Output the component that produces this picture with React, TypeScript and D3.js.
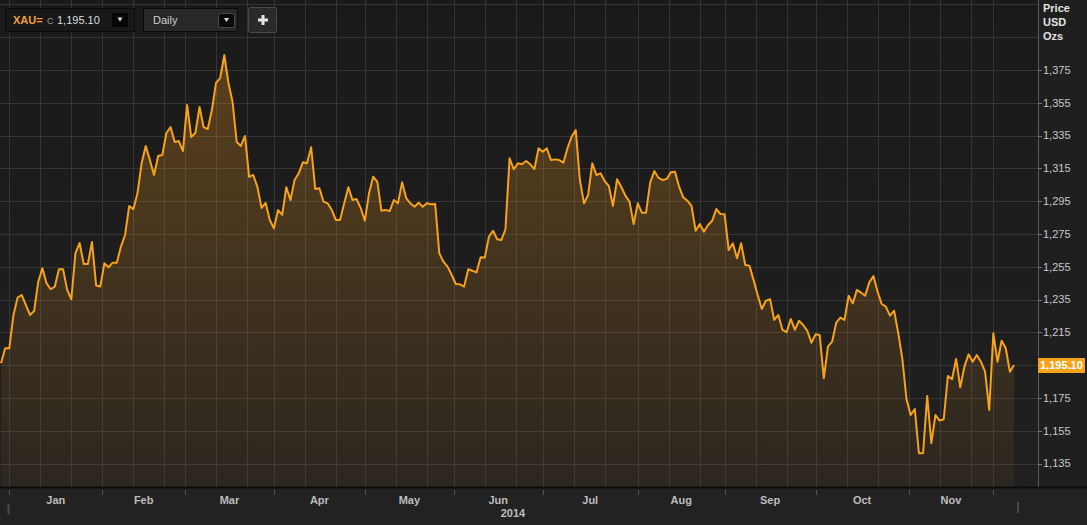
import React from 'react';
import * as d3 from 'd3';

// daily XAU= closes, first session Mon 30 Dec 2013, weekdays only
const firstSession = new Date(2013, 11, 30);
const closes = [
  1196.2, 1205.3, 1205.3, 1225.6, 1236.2, 1237.8, 1231.7, 1225.6, 1228.0, 1245.9,
  1254.1, 1245.0, 1241.3, 1242.9, 1253.5, 1253.5, 1240.9, 1235.2, 1263.4, 1269.5,
  1256.7, 1256.7, 1270.1, 1243.6, 1243.0, 1257.1, 1254.7, 1257.5, 1257.5, 1267.3,
  1274.4, 1292.1, 1290.1, 1299.8, 1318.1, 1328.7, 1320.1, 1311.0, 1322.6, 1323.2,
  1336.6, 1340.2, 1331.1, 1331.7, 1325.6, 1353.7, 1334.1, 1336.6, 1352.4, 1340.2,
  1339.0, 1350.6, 1367.1, 1370.1, 1384.1, 1367.1, 1355.5, 1331.1, 1328.7, 1334.8,
  1309.8, 1311.0, 1303.7, 1290.9, 1293.9, 1283.5, 1278.5, 1289.6, 1286.6, 1303.5,
  1295.7, 1307.9, 1312.0, 1318.7, 1318.1, 1327.9, 1302.4, 1302.9, 1294.7, 1293.7,
  1289.6, 1283.5, 1283.5, 1293.7, 1303.5, 1295.7, 1296.3, 1290.7, 1283.1, 1299.8,
  1309.9, 1306.9, 1289.2, 1289.6, 1289.0, 1295.7, 1293.7, 1306.5, 1296.8, 1293.7,
  1291.6, 1294.1, 1291.6, 1293.7, 1293.1, 1293.3, 1263.2, 1258.1, 1255.1, 1250.0,
  1244.5, 1244.3, 1242.9, 1253.5, 1252.6, 1251.6, 1260.8, 1260.6, 1273.4, 1277.0,
  1271.8, 1271.3, 1277.9, 1321.2, 1314.5, 1318.1, 1317.5, 1319.5, 1317.5, 1314.6,
  1327.3, 1325.2, 1327.3, 1320.1, 1320.5, 1320.1, 1318.5, 1327.3, 1334.3, 1338.4,
  1307.9, 1293.7, 1298.8, 1318.1, 1311.0, 1312.0, 1307.3, 1304.3, 1292.1, 1308.4,
  1303.8, 1298.4, 1294.7, 1281.1, 1293.7, 1288.0, 1288.0, 1306.3, 1313.4, 1309.3,
  1307.9, 1308.5, 1312.6, 1313.0, 1303.8, 1297.4, 1295.3, 1292.1, 1277.0, 1281.1,
  1276.4, 1280.5, 1283.1, 1290.2, 1287.2, 1287.0, 1265.2, 1269.3, 1260.2, 1269.3,
  1256.1, 1255.7, 1247.0, 1237.8, 1229.3, 1234.3, 1235.2, 1222.6, 1225.6, 1216.5,
  1215.1, 1223.2, 1216.5, 1222.1, 1219.5, 1215.9, 1208.7, 1213.8, 1213.4, 1187.0,
  1206.3, 1209.3, 1220.9, 1224.0, 1222.6, 1237.4, 1232.7, 1240.9, 1239.2, 1237.4,
  1245.5, 1249.4, 1239.8, 1232.3, 1230.7, 1225.2, 1228.2, 1214.5, 1198.6, 1174.2,
  1164.6, 1168.3, 1141.3, 1141.3, 1176.2, 1147.4, 1164.6, 1161.2, 1162.0, 1188.4,
  1186.4, 1198.8, 1181.5, 1194.1, 1201.6, 1197.1, 1201.2, 1197.1, 1191.0, 1167.7,
  1214.5, 1197.1, 1209.9, 1205.3, 1191.0, 1195.1,
];

const monthNames = ['Jan', 'Feb', 'Mar', 'Apr', 'May', 'Jun', 'Jul', 'Aug', 'Sep', 'Oct', 'Nov'];
const yearLabel = '2014';
const priceLabels = [1135, 1155, 1175, 1215, 1235, 1255, 1275, 1295, 1315, 1335, 1355, 1375];
const gridLevels = [1135, 1155, 1175, 1195, 1215, 1235, 1255, 1275, 1295, 1315, 1335, 1355, 1375, 1395, 1415];
const lastPrice = 1195.1;
const ric = 'XAU=';
const interval = 'Daily';
const unitLines = ['Price', 'USD', 'Ozs'];

const W = 1087;
const H = 525;
const plotRight = 1038;
const plotBottom = 487;
const font = "'Liberation Sans', Arial, Helvetica, sans-serif";

const sessions = d3.timeDay
  .range(firstSession, new Date(2015, 0, 1))
  .filter(d => d.getDay() !== 0 && d.getDay() !== 6)
  .slice(0, closes.length);

const x = d3.scaleLinear().domain([-0.25, 250.8]).range([0, plotRight]);
const y = d3.scaleLinear().domain([1120.7, 1417.7]).range([plotBottom, 0]);

const fmt = d3.format(',');
const fmt2 = d3.format(',.2f');

// month boundaries (Jan..Dec 2014)
const monthTicks = d3.range(12).map(m => {
  const start = new Date(2014, m, 1);
  const i = sessions.findIndex(d => d >= start);
  const onFirst = sessions[i].getDate() === 1;
  return x(onFirst ? i : i - 0.5);
});

const step = x(7.5) - x(0);
const lastX = x(closes.length - 1);
const vGrid = monthTicks.flatMap(p => [p, p + step, p + 2 * step]).filter(p => p <= lastX);

const linePath = d3.line<number>().x((_, i) => x(i)).y(d => y(d))(closes) || '';
const areaPath = d3.area<number>().x((_, i) => x(i)).y0(plotBottom).y1(d => y(d))(closes) || '';

export default function App() {
  const lastY = y(lastPrice);
  return (
    <svg width={W} height={H} style={{ position: 'absolute', left: 0, top: 0, display: 'block' }} fontFamily={font}>
      <defs>
        <linearGradient id="bg" x1="0" y1="0" x2="0" y2="1">
          <stop offset="0" stopColor="#1a1a1a" />
          <stop offset="1" stopColor="#202020" />
        </linearGradient>
        <linearGradient id="fill" gradientUnits="userSpaceOnUse" x1="0" y1={y(1384)} x2="0" y2={plotBottom}>
          <stop offset="0" stopColor="#ffa020" stopOpacity={0.28} />
          <stop offset="1" stopColor="#ffa020" stopOpacity={0.05} />
        </linearGradient>
      </defs>

      <rect width={W} height={H} fill="#1f1f1f" />
      <rect width={plotRight} height={plotBottom} fill="url(#bg)" />

      {/* grid */}
      {gridLevels.map(v => (
        <line key={'h' + v} x1={0} x2={plotRight} y1={Math.round(y(v)) + 0.5} y2={Math.round(y(v)) + 0.5} stroke="#353535" />
      ))}
      {vGrid.map((p, i) => (
        <line key={'v' + i} x1={Math.round(p) + 0.5} x2={Math.round(p) + 0.5} y1={0} y2={plotBottom} stroke="#353535" />
      ))}

      <path d={areaPath} fill="url(#fill)" />
      <path d={linePath} fill="none" stroke="#f7a21b" strokeWidth={2} strokeLinejoin="round" />

      {/* right axis */}
      <line x1={plotRight + 0.5} x2={plotRight + 0.5} y1={0} y2={plotBottom} stroke="#5a5a5a" />
      {priceLabels.map(v => (
        <g key={'t' + v}>
          <line x1={plotRight} x2={plotRight + 4} y1={Math.round(y(v)) + 0.5} y2={Math.round(y(v)) + 0.5} stroke="#777" />
          <text x={plotRight + 5} y={y(v)} dy="0.35em" fontSize={11} fill="#c8c8c8">{fmt(v)}</text>
        </g>
      ))}
      {unitLines.map((t, i) => (
        <text key={t} x={plotRight + 5} y={12 + i * 14} fontSize={11} fontWeight="bold" fill="#e2e2e2">{t}</text>
      ))}
      <rect x={plotRight} y={lastY - 7} width={47} height={15} fill="#f7a21b" />
      <text x={plotRight + 2} y={lastY} dy="0.36em" fontSize={11} fontWeight="bold" fill="#fff">{fmt2(lastPrice)}</text>

      {/* bottom axis */}
      <rect x={0} y={plotBottom} width={W} height={H - plotBottom} fill="#222" />
      <line x1={0} x2={W} y1={plotBottom + 0.5} y2={plotBottom + 0.5} stroke="#0c0c0c" strokeWidth={2} />
      {monthTicks.map((p, i) => (
        <line key={'m' + i} x1={Math.round(p) + 0.5} x2={Math.round(p) + 0.5} y1={490} y2={495} stroke="#555" />
      ))}
      {monthNames.map((m, i) => (
        <text key={m} x={(monthTicks[i] + monthTicks[i + 1]) / 2} y={504} textAnchor="middle" fontSize={11} fontWeight="bold" fill="#bdbdbd">{m}</text>
      ))}
      <text x={513} y={517} textAnchor="middle" fontSize={11} fontWeight="bold" fill="#bdbdbd">{yearLabel}</text>
      <rect x={7.5} y={504} width={2} height={10} fill="#4a4a4a" />
      <rect x={1017} y={502} width={2} height={11} fill="#4a4a4a" />

      {/* toolbar */}
      <rect x={5.5} y={8.5} width={129} height={23} fill="#181818" stroke="#0a0a0a" />
      <text x={13} y={24} fontSize={11} fontWeight="bold" fill="#f0a030">{ric}</text>
      <text x={47} y={24} fontSize={9} fill="#9a9a9a">C</text>
      <text x={57} y={24} fontSize={11} fill="#dcdcdc">{fmt2(lastPrice)}</text>
      <rect x={112} y={13} width={16} height={14} fill="#050505" />
      <path d="M117.5,17.5 L122.5,17.5 L120,21.5 Z" fill="#e0e0e0" />

      <rect x={143.5} y={8.5} width={94} height={23} fill="#282828" stroke="#0a0a0a" />
      <text x={153} y={24} fontSize={11} fill="#cfcfcf">{interval}</text>
      <rect x={218.5} y={13.5} width={16} height={14} rx={2} fill="#0a0a0a" stroke="#4a4a4a" />
      <path d="M224,18 L229,18 L226.5,22 Z" fill="#d8d8d8" />

      <rect x={248.5} y={7.5} width={28} height={25} rx={2} fill="#2a2a2a" stroke="#4a4a4a" />
      <rect x={258} y={18.5} width={10} height={3} fill="#e6e6e6" />
      <rect x={261.5} y={15} width={3} height={10} fill="#e6e6e6" />
    </svg>
  );
}
